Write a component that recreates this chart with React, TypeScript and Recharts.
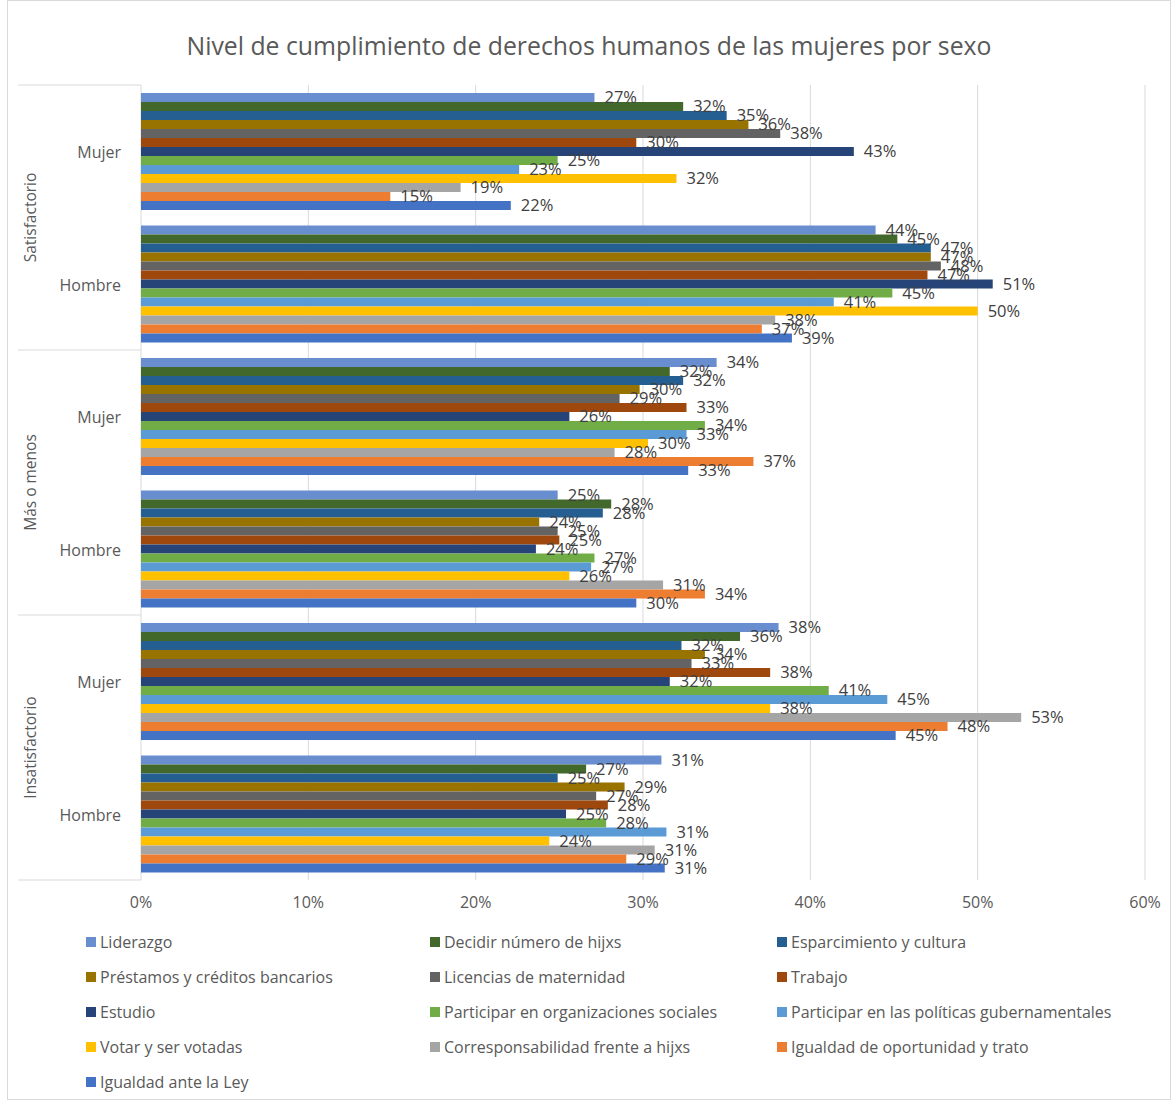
import { BarChart, Bar, XAxis, YAxis, CartesianGrid, LabelList } from "recharts";

const sexos = ["Mujer", "Hombre", "Mujer", "Hombre", "Mujer", "Hombre"];
const grupos = ["Satisfactorio", "Satisfactorio", "Más o menos", "Más o menos", "Insatisfactorio", "Insatisfactorio"];
const xTicks = [0, 10, 20, 30, 40, 50, 60];

// one array per right, values in % (Sat-M, Sat-H, MoM-M, MoM-H, Insat-M, Insat-H)
const liderazgo = [27.1, 43.9, 34.4, 24.9, 38.1, 31.1];
const decidirHijxs = [32.4, 45.2, 31.6, 28.1, 35.8, 26.6];
const esparcimiento = [35.0, 47.2, 32.4, 27.6, 32.3, 24.9];
const prestamos = [36.3, 47.2, 29.8, 23.8, 33.7, 28.9];
const licencias = [38.2, 47.8, 28.6, 24.9, 32.9, 27.2];
const trabajo = [29.6, 47.0, 32.6, 25.0, 37.6, 27.9];
const estudio = [42.6, 50.9, 25.6, 23.6, 31.6, 25.4];
const orgSociales = [24.9, 44.9, 33.7, 27.1, 41.1, 27.8];
const politicas = [22.6, 41.4, 32.6, 26.9, 44.6, 31.4];
const votar = [32.0, 50.0, 30.3, 25.6, 37.6, 24.4];
const corresponsabilidad = [19.1, 37.9, 28.3, 31.2, 52.6, 30.7];
const igualdadOportunidad = [14.9, 37.1, 36.6, 33.7, 48.2, 29.0];
const igualdadLey = [22.1, 38.9, 32.7, 29.6, 45.1, 31.3];

const series = [
  { key: "liderazgo", name: "Liderazgo", color: "#698ED0", values: liderazgo },
  { key: "decidir", name: "Decidir número de hijxs", color: "#43682B", values: decidirHijxs },
  { key: "esparcimiento", name: "Esparcimiento y cultura", color: "#255E91", values: esparcimiento },
  { key: "prestamos", name: "Préstamos y créditos bancarios", color: "#997300", values: prestamos },
  { key: "licencias", name: "Licencias de maternidad", color: "#636363", values: licencias },
  { key: "trabajo", name: "Trabajo", color: "#9E480E", values: trabajo },
  { key: "estudio", name: "Estudio", color: "#264478", values: estudio },
  { key: "org", name: "Participar en organizaciones sociales", color: "#70AD47", values: orgSociales },
  { key: "politicas", name: "Participar en las políticas gubernamentales", color: "#5B9BD5", values: politicas },
  { key: "votar", name: "Votar y ser votadas", color: "#FFC000", values: votar },
  { key: "corresp", name: "Corresponsabilidad frente a hijxs", color: "#A5A5A5", values: corresponsabilidad },
  { key: "oportunidad", name: "Igualdad de oportunidad y trato", color: "#ED7D31", values: igualdadOportunidad },
  { key: "ley", name: "Igualdad ante la Ley", color: "#4472C4", values: igualdadLey },
];

const chartData = sexos.map((sexo, i) => {
  const row: any = { cat: `${grupos[i]}|${sexo}` };
  series.forEach((s) => (row[s.key] = s.values[i]));
  return row;
});

const FONT = "'Open Sans', 'Noto Sans', sans-serif";
const TEXT = "#595959";
const CHART_W = 1162;
const CHART_H = 1098;
const MARGIN = { top: 84, right: 25, bottom: 189, left: 8 };
const Y_AXIS_W = 125;
const PLOT_LEFT = MARGIN.left + Y_AXIS_W;
const BAND = (CHART_H - MARGIN.top - MARGIN.bottom - 30) / chartData.length;

// two-level category tick: sexo next to the bars, group label rotated on the far left
const CategoryTick = (props: any) => {
  const { y, payload, index } = props;
  const [grupo, sexo] = String(payload.value).split("|");
  const isFirst = index % 2 === 0;
  return (
    <g>
      <text x={PLOT_LEFT - 20} y={y} dy={7} textAnchor="end" fill={TEXT} fontSize={16} fontFamily={FONT}>
        {sexo}
      </text>
      {isFirst && (
        <>
          <line x1={10} x2={PLOT_LEFT} y1={y - BAND / 2} y2={y - BAND / 2} stroke="#d9d9d9" />
          <text
            x={23}
            y={y + BAND / 2}
            transform={`rotate(-90 23 ${y + BAND / 2})`}
            textAnchor="middle"
            dy={5}
            fill={TEXT}
            fontSize={15.5}
            fontFamily={FONT}
          >
            {grupo}
          </text>
        </>
      )}
      {index === chartData.length - 1 && (
        <line x1={10} x2={PLOT_LEFT} y1={y + BAND / 2} y2={y + BAND / 2} stroke="#d9d9d9" />
      )}
    </g>
  );
};

export default function App() {
  return (
    <div
      style={{
        position: "absolute",
        left: 7,
        top: 0,
        width: 1164,
        height: 1100,
        border: "1px solid #d9d9d9",
        boxSizing: "border-box",
        background: "#fff",
        fontFamily: FONT,
      }}
    >
      <div
        style={{
          position: "absolute",
          top: 27,
          left: 0,
          width: "100%",
          textAlign: "center",
          fontSize: 24.8,
          color: TEXT,
        }}
      >
        Nivel de cumplimiento de derechos humanos de las mujeres por sexo
      </div>
      <div style={{ position: "absolute", left: 0, top: 0 }}>
        <BarChart
          width={CHART_W}
          height={CHART_H}
          data={chartData}
          layout="vertical"
          margin={MARGIN}
          barCategoryGap={8}
          barGap={0}
        >
          <CartesianGrid horizontal={false} stroke="#d9d9d9" />
          <XAxis
            type="number"
            domain={[0, 60]}
            ticks={xTicks}
            tickFormatter={(v) => `${v}%`}
            axisLine={false}
            tickLine={false}
            tickMargin={11}
            height={30}
            tick={{ fill: TEXT, fontSize: 16, fontFamily: FONT }}
          />
          <YAxis
            type="category"
            dataKey="cat"
            width={Y_AXIS_W}
            axisLine={false}
            tickLine={false}
            tick={<CategoryTick />}
            interval={0}
          />
          {series.map((s) => (
            <Bar key={s.key} dataKey={s.key} name={s.name} fill={s.color} isAnimationActive={false}>
              <LabelList
                dataKey={s.key}
                position="right"
                offset={10}
                formatter={(v: any) => `${Math.round(v)}%`}
                fill="#404040"
                fontSize={16.5}
                fontFamily={FONT}
              />
            </Bar>
          ))}
        </BarChart>
      </div>
      <div
        style={{
          position: "absolute",
          left: 78,
          top: 930,
          width: 1080,
          display: "grid",
          gridTemplateColumns: "344px 347px 380px",
          rowGap: 13,
          fontSize: 16,
          color: TEXT,
        }}
      >
        {series.map((s) => (
          <div key={s.key} style={{ display: "flex", alignItems: "center", height: 22, whiteSpace: "nowrap" }}>
            <span style={{ width: 10, height: 10, background: s.color, marginRight: 4, display: "inline-block" }} />
            {s.name}
          </div>
        ))}
      </div>
    </div>
  );
}
